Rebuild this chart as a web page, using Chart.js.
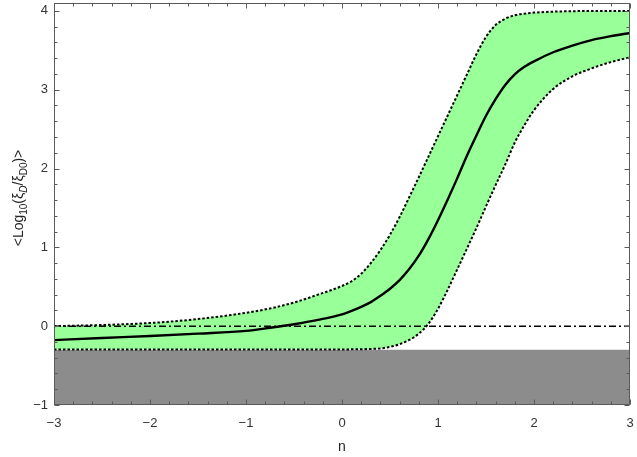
<!DOCTYPE html>
<html><head><meta charset="utf-8">
<script src="https://cdn.jsdelivr.net/npm/chart.js@4"></script>
<style>html,body{margin:0;padding:0;background:#fff;} canvas{display:block;}</style>
</head><body>
<canvas id="c" width="637" height="457"></canvas>
<script>
// ---- data ----
const nGrid = [-3,-2.5,-2,-1.5,-1,-0.75,-0.5,-0.25,0,0.1,0.2,0.3,0.4,0.5,0.6,0.7,0.8,0.9,1.0,1.1,1.2,1.3,1.4,1.5,1.6,1.7,1.8,1.9,2.0,2.2,2.4,2.6,2.8,3.0];
const meanVals = [-0.177,-0.15,-0.125,-0.095,-0.06,-0.02,0.025,0.08,0.15,0.195,0.245,0.305,0.385,0.475,0.585,0.725,0.895,1.105,1.345,1.605,1.875,2.16,2.42,2.67,2.88,3.06,3.195,3.29,3.36,3.475,3.56,3.63,3.68,3.72];
const upperVals = [0.0,0.015,0.04,0.09,0.17,0.225,0.30,0.40,0.51,0.57,0.665,0.80,0.965,1.16,1.385,1.635,1.89,2.15,2.41,2.67,2.93,3.19,3.45,3.67,3.82,3.90,3.945,3.965,3.978,3.99,3.996,4.0,4.0,4.0];
const lowerVals = [-0.295,-0.295,-0.295,-0.295,-0.295,-0.295,-0.295,-0.295,-0.295,-0.294,-0.292,-0.289,-0.282,-0.262,-0.228,-0.175,-0.095,0.03,0.22,0.46,0.72,0.98,1.245,1.52,1.79,2.05,2.33,2.55,2.74,3.01,3.17,3.27,3.35,3.41];
const floorN = [-3, 3];
const floorVals = [-0.3, -0.3];
const zeroN = [-3, 3];
const zeroVals = [0, 0];
const xTicks = [-3,-2,-1,0,1,2,3];
const yTicks = [-1,0,1,2,3,4];
const xRange = [-3, 3];
const yRange = [-1, 4.1];

const pts = (xs, ys) => xs.map((x, i) => ({x: x, y: ys[i]}));
const FONT = "'Liberation Sans', Arial, sans-serif";
const fmt = v => (v < 0 ? '\u2212' + Math.abs(v) : String(v));
const noPad = s => { s.paddingTop = 0; s.paddingBottom = 0; s.paddingLeft = 0; s.paddingRight = 0; };

const framePlugin = {
  id: 'frame',
  afterDatasetsDraw(chart) {
    const {ctx, chartArea: a, scales} = chart;
    const xs = scales.x, ys = scales.y;
    ctx.save();
    ctx.strokeStyle = '#5a5a5a';
    ctx.lineWidth = 1;
    const L = Math.round(a.left) + 0.5, R = Math.round(a.right) - 0.5;
    const T = Math.round(a.top) + 0.5, B = Math.round(a.bottom) - 0.5;
    ctx.strokeRect(L, T, R - L, B - T);
    ctx.beginPath();
    const tick = (len, v, axis) => {
      if (axis === 'x') {
        const p = Math.round(xs.getPixelForValue(v)) + 0.5;
        ctx.moveTo(p, B); ctx.lineTo(p, B - len);
        ctx.moveTo(p, T); ctx.lineTo(p, T + len);
      } else {
        const p = Math.round(ys.getPixelForValue(v)) + 0.5;
        ctx.moveTo(L, p); ctx.lineTo(L + len, p);
        ctx.moveTo(R, p); ctx.lineTo(R - len, p);
      }
    };
    for (let i = 0; i < xTicks.length; i++) {
      tick(5, xTicks[i], 'x');
      if (i < xTicks.length - 1) for (let k = 1; k < 5; k++) tick(3, xTicks[i] + k * (xTicks[i+1] - xTicks[i]) / 5, 'x');
    }
    for (let i = 0; i < yTicks.length; i++) {
      tick(5, yTicks[i], 'y');
      if (i < yTicks.length - 1) for (let k = 1; k < 5; k++) tick(3, yTicks[i] + k * (yTicks[i+1] - yTicks[i]) / 5, 'y');
    }
    ctx.stroke();

    // axis titles
    ctx.fillStyle = '#222';
    ctx.textBaseline = 'alphabetic';
    ctx.textAlign = 'center';
    ctx.font = '14px ' + FONT;
    ctx.fillText('n', (a.left + a.right) / 2, 451);

    const pieces = [
      {t: '<Log', s: 14, dy: 0},
      {t: '10', s: 10, dy: 3.5},
      {t: '(\u03BE', s: 14, dy: 0},
      {t: 'D', s: 10, dy: 3.5, it: true},
      {t: '/\u03BE', s: 14, dy: 0},
      {t: 'D0', s: 10, dy: 3.5},
      {t: ')>', s: 14, dy: 0}
    ];
    ctx.textAlign = 'left';
    let total = 0;
    pieces.forEach(p => { ctx.font = (p.it ? 'italic ' : '') + p.s + 'px ' + FONT; p.w = ctx.measureText(p.t).width; total += p.w; });
    ctx.translate(23, 198);
    ctx.rotate(-Math.PI / 2);
    let x = -total / 2;
    pieces.forEach(p => { ctx.font = (p.it ? 'italic ' : '') + p.s + 'px ' + FONT; ctx.fillText(p.t, x, p.dy); x += p.w; });
    ctx.restore();
  }
};

const common = {pointRadius: 0, pointHoverRadius: 0, cubicInterpolationMode: 'monotone'};

new Chart(document.getElementById('c'), {
  type: 'line',
  data: {
    datasets: [
      Object.assign({label: 'floor', data: pts(floorN, floorVals), borderWidth: 0, borderColor: 'rgba(0,0,0,0)', backgroundColor: '#8c8c8c', fill: 'start', order: 10}, common),
      Object.assign({label: 'upper', data: pts(nGrid, upperVals), borderColor: '#000', borderWidth: 2, borderDash: [2.5, 2], backgroundColor: '#99ff99', fill: 2, order: 9}, common),
      Object.assign({label: 'lower', data: pts(nGrid, lowerVals), borderColor: '#000', borderWidth: 2, borderDash: [2.5, 2], fill: false, order: 8}, common),
      Object.assign({label: 'zero', data: pts(zeroN, zeroVals), borderColor: '#000', borderWidth: 1.6, borderDash: [7, 3, 2, 3], fill: false, order: 7}, common),
      Object.assign({label: 'mean', data: pts(nGrid, meanVals), borderColor: '#000', borderWidth: 2.4, fill: false, order: 6}, common)
    ]
  },
  options: {
    responsive: false,
    animation: false,
    events: [],
    layout: {padding: {top: 3, right: 7, left: 0, bottom: 0}},
    plugins: {legend: {display: false}, tooltip: {enabled: false}, filler: {propagate: false}},
    scales: {
      x: {
        type: 'linear', min: xRange[0], max: xRange[1],
        grid: {display: false, drawTicks: false}, border: {display: false},
        ticks: {color: '#333', font: {family: FONT, size: 13}, padding: 11, maxRotation: 0, callback: fmt},
        afterBuildTicks: s => { s.ticks = xTicks.map(v => ({value: v})); },
        afterFit: s => { s.height = 52; noPad(s); }
      },
      y: {
        type: 'linear', min: yRange[0], max: yRange[1],
        grid: {display: false, drawTicks: false}, border: {display: false},
        ticks: {color: '#333', font: {family: FONT, size: 13}, padding: 6, callback: fmt},
        afterBuildTicks: s => { s.ticks = yTicks.map(v => ({value: v})); },
        afterFit: s => { s.width = 54; noPad(s); }
      }
    }
  },
  plugins: [framePlugin]
});
</script>
</body></html>
